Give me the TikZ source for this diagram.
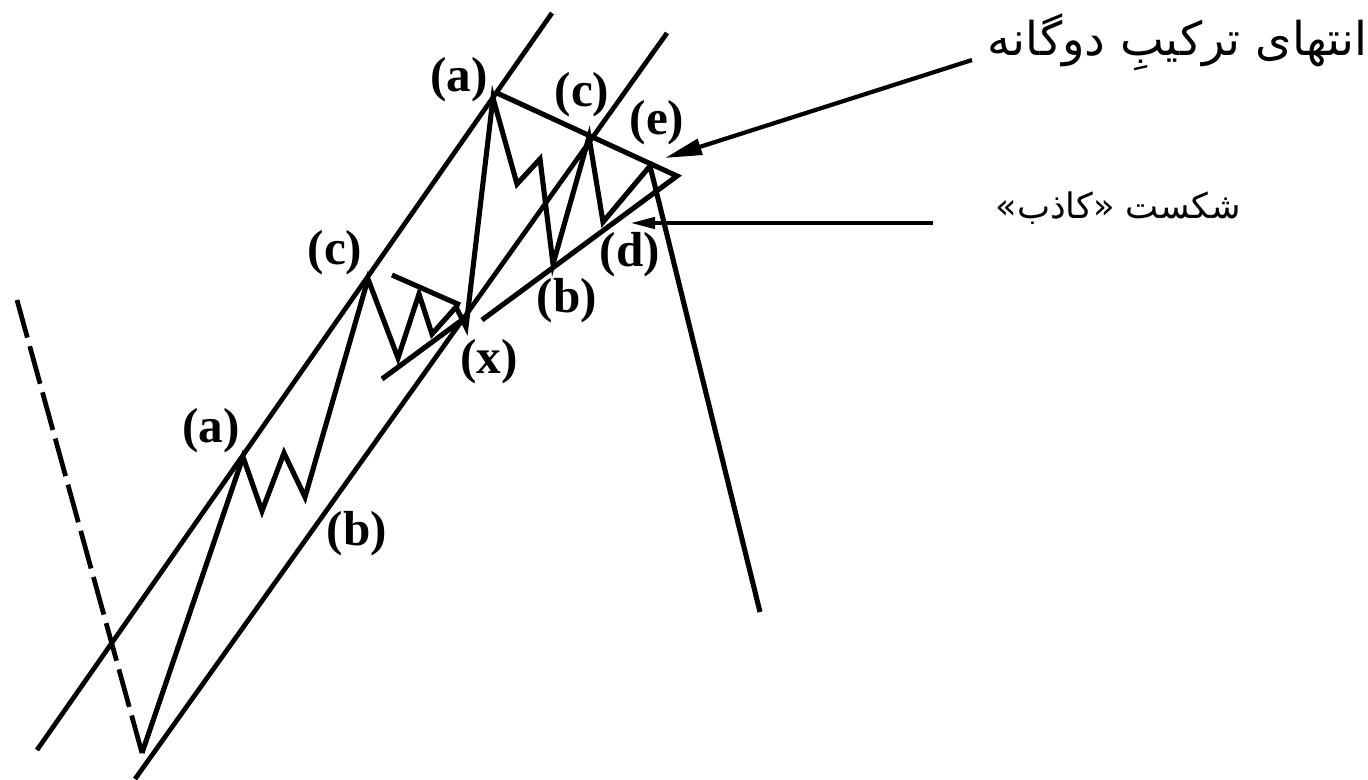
\documentclass[tikz,border=0pt]{standalone}
\usepackage{fontspec}
\setmainfont{Liberation Serif}
\newfontfamily\farsifont[Script=Arabic]{DejaVu Sans}
\TeXXeTstate=1
\usepackage{tikz}
\usetikzlibrary{arrows.meta}

\begin{document}
\begin{tikzpicture}[
    x=0.02cm, y=-0.02cm,
    wave/.style={line width=2.9pt, line join=miter},
    channel/.style={line width=2.7pt},
    guess/.style={line width=2.7pt, dash pattern=on 0.78cm off 0.178cm},
    lbl/.style={font=\fontsize{28}{32}\selectfont\bfseries, inner sep=0pt},
    note/.style={inner sep=0pt},
    pointer/.style={-{Triangle[length=0.74cm, width=0.32cm]}, line width=2.4pt},
    smallpointer/.style={-{Triangle[length=0.5cm, width=0.22cm]}, line width=2.4pt}
]
    \useasboundingbox (0,0) rectangle (1368,779);

    % Wave points
    \coordinate (start) at (17,300);
    \coordinate (low)   at (142,753);
    \coordinate (pa1)   at (243,457);
    \coordinate (pa1b)  at (262,511);
    \coordinate (pa1c)  at (284,453);
    \coordinate (pb1)   at (305,497);
    \coordinate (pc1)   at (368,279);
    \coordinate (tr1)   at (398,358);
    \coordinate (tr2)   at (419,294);
    \coordinate (tr3)   at (432,334);
    \coordinate (tr4)   at (456,307);
    \coordinate (px)    at (466,327);
    \coordinate (pa2)   at (493,98);
    \coordinate (pa2b)  at (517,184);
    \coordinate (pa2c)  at (540,159);
    \coordinate (pb2)   at (553,264);
    \coordinate (pc2)   at (589,137);
    \coordinate (pd2)   at (603,222);
    \coordinate (pe2)   at (650,166);
    \coordinate (drop)  at (760,612);

    % Channel and triangle corners
    \coordinate (upA) at (37,750);
    \coordinate (upB) at (552,13);
    \coordinate (loA) at (135,779);
    \coordinate (loB) at (667,33);
    \coordinate (apex) at (677,176);
    \coordinate (triA) at (497,93);
    \coordinate (triB) at (482,320);
    \coordinate (smA) at (392,275);
    \coordinate (smB) at (460,305);
    \coordinate (smC) at (382,379);
    \coordinate (smD) at (462,320);

    % Labels
    \node[lbl] (la1) at (211,431) {(a)};
    \node[lbl] (lb1) at (357,534) {(b)};
    \node[lbl] (lc1) at (335,253) {(c)};
    \node[lbl] (lx)  at (489,362) {(x)};
    \node[lbl] (la2) at (459,80)  {(a)};
    \node[lbl] (lb2) at (567,301) {(b)};
    \node[lbl] (lc2) at (582,95)  {(c)};
    \node[lbl] (ld2) at (630,255) {(d)};
    \node[lbl] (le2) at (657,123) {(e)};

    % Notes
    \node[note, font=\fontsize{26.5}{30}\selectfont\farsifont, anchor=base east] (endnote) at (1368,55)
        {\beginR انتهای ترکیبِ دوگانه\endR};
    \node[note, font=\fontsize{20}{24}\selectfont\farsifont, anchor=base east] (falsenote) at (1241,218)
        {\beginR شکست «کاذب»\endR};
    \coordinate (endtail) at (972,60);
    \coordinate (endtip) at (665,158);
    \coordinate (falsetail) at (933,223);
    \coordinate (falsetip) at (630,223);

    % Channel lines
    \draw[channel] (upA) -- (upB);
    \draw[channel] (loA) -- (loB);

    % Triangles
    \draw[wave] (triA) -- (apex) -- (triB);
    \draw[wave] (smA) -- (smB);
    \draw[wave] (smC) -- (smD);

    % Wave
    \draw[guess] (start) -- (low);
    \draw[wave] (low) -- (pa1) -- (pa1b) -- (pa1c) -- (pb1) -- (pc1)
        -- (tr1) -- (tr2) -- (tr3) -- (tr4) -- (px) -- (pa2)
        -- (pa2b) -- (pa2c) -- (pb2) -- (pc2) -- (pd2) -- (pe2) -- (drop);

    % Arrows
    \draw[pointer] (endtail) -- (endtip);
    \draw[smallpointer] (falsetail) -- (falsetip);

\end{tikzpicture}
\end{document}
